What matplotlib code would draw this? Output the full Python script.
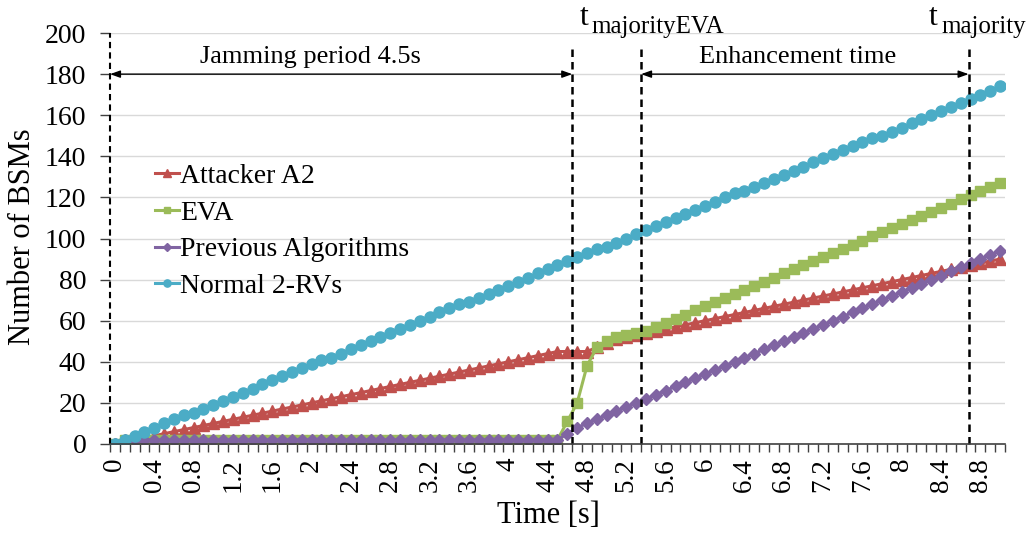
import matplotlib
matplotlib.use("Agg")
import matplotlib.pyplot as plt

# === Config ===
plt.rcParams['font.family'] = ['Liberation Serif', 'DejaVu Serif']

# === Data (one point per 0.1 s) ===
time_s = [0.0, 0.1, 0.2, 0.3, 0.4, 0.5, 0.6, 0.7, 0.8, 0.9,
          1.0, 1.1, 1.2, 1.3, 1.4, 1.5, 1.6, 1.7, 1.8, 1.9,
          2.0, 2.1, 2.2, 2.3, 2.4, 2.5, 2.6, 2.7, 2.8, 2.9,
          3.0, 3.1, 3.2, 3.3, 3.4, 3.5, 3.6, 3.7, 3.8, 3.9,
          4.0, 4.1, 4.2, 4.3, 4.4, 4.5, 4.6, 4.7, 4.8, 4.9,
          5.0, 5.1, 5.2, 5.3, 5.4, 5.5, 5.6, 5.7, 5.8, 5.9,
          6.0, 6.1, 6.2, 6.3, 6.4, 6.5, 6.6, 6.7, 6.8, 6.9,
          7.0, 7.1, 7.2, 7.3, 7.4, 7.5, 7.6, 7.7, 7.8, 7.9,
          8.0, 8.1, 8.2, 8.3, 8.4, 8.5, 8.6, 8.7, 8.8, 8.9,
          9.0]

attacker_a2 = [0, 1, 2, 3, 4, 5, 6, 7, 8, 9,
               10, 11, 12, 13, 14, 15, 16, 17, 18, 19,
               20, 21, 22, 23, 24, 25, 26, 27, 28, 29,
               30, 31, 32, 33, 34, 35, 36, 37, 38, 39,
               40, 41, 42, 43, 44, 45, 45, 45, 45, 47,
               49, 51, 52, 53, 54, 55, 56, 57, 58, 59,
               60, 61, 62, 63, 64, 65, 66, 67, 68, 69,
               70, 71, 72, 73, 74, 75, 76, 77, 78, 79,
               80, 81, 82, 83, 84, 85, 86, 87, 88, 89,
               90]

eva = [0, 2, 2, 2, 2, 2, 2, 2, 2, 2,
       2, 2, 2, 2, 2, 2, 2, 2, 2, 2,
       2, 2, 2, 2, 2, 2, 2, 2, 2, 2,
       2, 2, 2, 2, 2, 2, 2, 2, 2, 2,
       2, 2, 2, 2, 2, 2, 11, 20, 38, 47,
       50, 52, 53, 54, 55, 57, 59, 61, 63, 65,
       67, 69, 71, 73, 75, 77, 79, 81, 83, 85,
       87, 89, 91, 93, 95, 97, 99, 101, 103, 105,
       107, 109, 111, 113, 115, 117, 119, 121, 123, 125,
       127]

previous_algos = [0, 2, 2, 2, 2, 2, 2, 2, 2, 2,
                  2, 2, 2, 2, 2, 2, 2, 2, 2, 2,
                  2, 2, 2, 2, 2, 2, 2, 2, 2, 2,
                  2, 2, 2, 2, 2, 2, 2, 2, 2, 2,
                  2, 2, 2, 2, 2, 2, 5, 8, 10, 12,
                  14, 16, 18, 20, 22, 24, 26, 28, 30, 32,
                  34, 36, 38, 40, 42, 44, 46, 48, 50, 52,
                  54, 56, 58, 60, 62, 64, 66, 68, 70, 72,
                  74, 76, 78, 80, 82, 84, 86, 88, 90, 92,
                  94]

normal_2rv = [0, 2, 4, 6, 8, 10, 12, 14, 15, 17,
              19, 21, 23, 25, 27, 29, 31, 33, 35, 37,
              39, 41, 42, 44, 46, 48, 50, 52, 54, 56,
              58, 60, 62, 64, 66, 68, 69, 71, 73, 75,
              77, 79, 81, 83, 85, 87, 89, 91, 93, 95,
              96, 98, 100, 102, 104, 106, 108, 110, 112, 114,
              116, 118, 120, 122, 123, 125, 127, 129, 131, 133,
              135, 137, 139, 141, 143, 145, 147, 149, 150, 152,
              154, 156, 158, 160, 162, 164, 166, 168, 170, 172,
              174]

xtick_vals = [0.0, 0.4, 0.8, 1.2, 1.6, 2.0, 2.4, 2.8, 3.2, 3.6, 4.0, 4.4,
              4.8, 5.2, 5.6, 6.0, 6.4, 6.8, 7.2, 7.6, 8.0, 8.4, 8.8]
xtick_labels = ["0", "0.4", "0.8", "1.2", "1.6", "2", "2.4", "2.8", "3.2", "3.6", "4", "4.4",
                "4.8", "5.2", "5.6", "6", "6.4", "6.8", "7.2", "7.6", "8", "8.4", "8.8"]

# marker times (vertical dashed lines)
t_jam_end = 4.65
t_majority_eva = 5.35
t_majority = 8.68

# === Figure ===
fig = plt.figure(figsize=(10.32, 5.33), dpi=100)
ax = fig.add_axes([0.1066, 0.167, 0.8672, 0.771])

series = [
    (attacker_a2, "Attacker A2", "#C0504D", "^", 8),
    (eva, "EVA", "#9BBB59", "s", 7),
    (previous_algos, "Previous Algorithms", "#8064A2", "D", 6),
    (normal_2rv, "Normal 2-RVs", "#4BACC6", "o", 8),
]
for vals, name, col, mk, ms in series:
    ax.plot(time_s, vals, color=col, lw=2.2, marker=mk, markersize=ms,
            markeredgecolor=col, label=name)

ax.set_xlim(-0.05, 9.05)
ax.set_ylim(0, 200)
ax.set_yticks(range(0, 201, 20))
ax.set_xticks(xtick_vals)
ax.set_xticklabels(xtick_labels, rotation=90)
ax.set_xticks([t - 0.05 for t in time_s] + [9.05], minor=True)
ax.tick_params(axis='x', which='major', length=0, pad=10, labelsize=19.5)
ax.tick_params(axis='x', which='minor', length=6, width=1, color='#404040')
ax.tick_params(axis='y', length=7, width=1, color='#404040', pad=10, labelsize=20)

ax.grid(axis='y', color='#d9d9d9', lw=1)
ax.set_axisbelow(True)
for s in ['top', 'right', 'left']:
    ax.spines[s].set_visible(False)
ax.spines['bottom'].set_color('#404040')
ax.spines['bottom'].set_linewidth(1.2)

ax.set_ylabel("Number of BSMs", fontsize=22)
ax.yaxis.set_label_coords(-0.082, 0.505)
ax.set_xlabel("Time [s]", fontsize=22)
ax.xaxis.set_label_coords(0.49, -0.138)

# === Dashed markers ===
dash = (0, (3, 2))
ax.plot([-0.05, -0.05], [0, 200], color='black', lw=1.5, linestyle=dash, clip_on=False)
for t in [t_jam_end, t_majority_eva, t_majority]:
    ax.plot([t, t], [0, 194], color='black', lw=1.8, linestyle=dash, clip_on=False)

# === Arrows + annotation text ===
arrow = dict(arrowstyle='<|-|>,head_length=0.5,head_width=0.18', color='black',
             lw=1, shrinkA=0, shrinkB=0, mutation_scale=12)
ax.annotate("", xy=(-0.05, 180), xytext=(t_jam_end, 180), arrowprops=arrow)
ax.annotate("", xy=(t_majority_eva, 180), xytext=(t_majority, 180), arrowprops=arrow)
ax.text(1.99, 185.5, "Jamming period 4.5s", fontsize=19, ha='center', va='baseline')
ax.text(6.94, 185.5, "Enhancement time", fontsize=19, ha='center', va='baseline')

# t with subscript, drawn as two texts
ax.text(4.73, 204, "t", fontsize=23, ha='left', va='baseline', clip_on=False)
ax.text(4.85, 200, "majorityEVA", fontsize=18, ha='left', va='baseline', clip_on=False)
ax.text(8.28, 204, "t", fontsize=23, ha='left', va='baseline', clip_on=False)
ax.text(8.40, 200, "majority", fontsize=18, ha='left', va='baseline', clip_on=False)

ax.legend(loc='upper left', bbox_to_anchor=(0.035, 0.717), frameon=False,
          fontsize=20, handlelength=0.85, handletextpad=0.05, labelspacing=0.41,
          markerscale=0.65, borderpad=0)

fig.savefig("out.png", dpi=100)
